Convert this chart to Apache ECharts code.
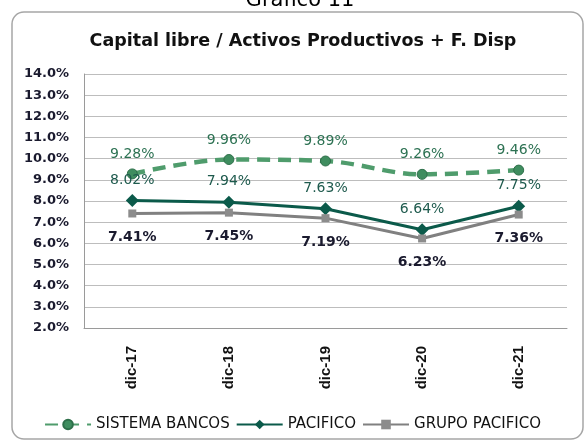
<!DOCTYPE html>
<html>
<head>
<meta charset="utf-8">
<script src="https://cdn.jsdelivr.net/npm/echarts@6/dist/echarts.min.js"></script>
<style>
  html, body { margin: 0; padding: 0; background: #fff; }
  #chart { width: 585px; height: 443px; }
</style>
</head>
<body>
<div id="chart"></div>
<script>
const categories = ['dic-17', 'dic-18', 'dic-19', 'dic-20', 'dic-21']
const sistemaBancos = [9.28, 9.96, 9.89, 9.26, 9.46]
const pacifico = [8.02, 7.94, 7.63, 6.64, 7.75]
const grupoPacifico = [7.41, 7.45, 7.19, 6.23, 7.36]

const chart = echarts.init(document.getElementById('chart'))

const pct = p => p.value.toFixed(2) + '%'

const option = {
  animation: false,
  graphic: [
    {
      type: 'rect',
      shape: { x: 12, y: 12, width: 571, height: 427, r: 12 },
      style: { fill: 'none', stroke: '#a6a6a6', lineWidth: 1.5 },
      z: -1
    },
    {
      type: 'text',
      x: 300,
      y: -10,
      style: {
        text: 'Gráfico 11',
        fontFamily: 'DejaVu Sans',
        fontSize: 21,
        fill: '#000',
        align: 'center'
      }
    },
    {
      type: 'text',
      x: 303,
      y: 32,
      style: {
        text: 'Capital libre / Activos Productivos + F. Disp',
        fontFamily: 'DejaVu Sans',
        fontWeight: 'bold',
        fontSize: 17.5,
        fill: '#111',
        align: 'center'
      }
    }
  ],
  grid: { left: 84, right: 18, top: 74, bottom: 115, containLabel: false },
  legend: {
    bottom: 6,
    left: 'center',
    itemGap: 6,
    itemWidth: 46,
    itemHeight: 12,
    textStyle: { fontFamily: 'DejaVu Sans', fontSize: 15, color: '#111' },
    data: ['SISTEMA BANCOS', 'PACIFICO', 'GRUPO PACIFICO']
  },
  xAxis: {
    type: 'category',
    data: categories,
    boundaryGap: true,
    axisLine: { lineStyle: { color: '#9a9a9a' } },
    axisTick: { show: false },
    axisLabel: {
      rotate: 90,
      margin: 18,
      fontFamily: 'Liberation Sans',
      fontWeight: 'bold',
      fontSize: 15,
      color: '#111'
    }
  },
  yAxis: {
    type: 'value',
    min: 2,
    max: 14,
    interval: 1,
    axisLine: { show: true, lineStyle: { color: '#9a9a9a' } },
    axisTick: { show: false },
    splitLine: { lineStyle: { color: '#bdbdbd' } },
    axisLabel: {
      margin: 15,
      formatter: v => v.toFixed(1) + '%',
      fontFamily: 'DejaVu Sans',
      fontWeight: 'bold',
      fontSize: 13,
      color: '#1a1a2e'
    }
  },
  series: [
    {
      name: 'SISTEMA BANCOS',
      type: 'line',
      data: sistemaBancos,
      smooth: 0.35,
      symbol: 'circle',
      symbolSize: 10,
      lineStyle: { color: '#4f9c6c', width: 4.5, type: [13, 8] },
      itemStyle: { color: '#3f8d5f', borderColor: '#2e6f4a', borderWidth: 1 },
      label: {
        show: true,
        position: 'top',
        distance: 7,
        formatter: pct,
        fontFamily: 'DejaVu Sans',
        fontSize: 14,
        color: '#2d7253'
      }
    },
    {
      name: 'PACIFICO',
      type: 'line',
      data: pacifico,
      symbol: 'diamond',
      symbolSize: 13,
      lineStyle: { color: '#0b5a4a', width: 3 },
      itemStyle: { color: '#0b5a4a' },
      label: {
        show: true,
        position: 'top',
        distance: 7,
        formatter: pct,
        fontFamily: 'DejaVu Sans',
        fontSize: 14,
        color: '#1e5a4d'
      }
    },
    {
      name: 'GRUPO PACIFICO',
      type: 'line',
      data: grupoPacifico,
      symbol: 'rect',
      symbolSize: 8,
      lineStyle: { color: '#808080', width: 3 },
      itemStyle: { color: '#8c8c8c' },
      label: {
        show: true,
        position: 'bottom',
        distance: 13,
        formatter: pct,
        fontFamily: 'DejaVu Sans',
        fontWeight: 'bold',
        fontSize: 14,
        color: '#1a1a2e'
      }
    }
  ]
}

chart.setOption(option)
</script>
</body>
</html>
